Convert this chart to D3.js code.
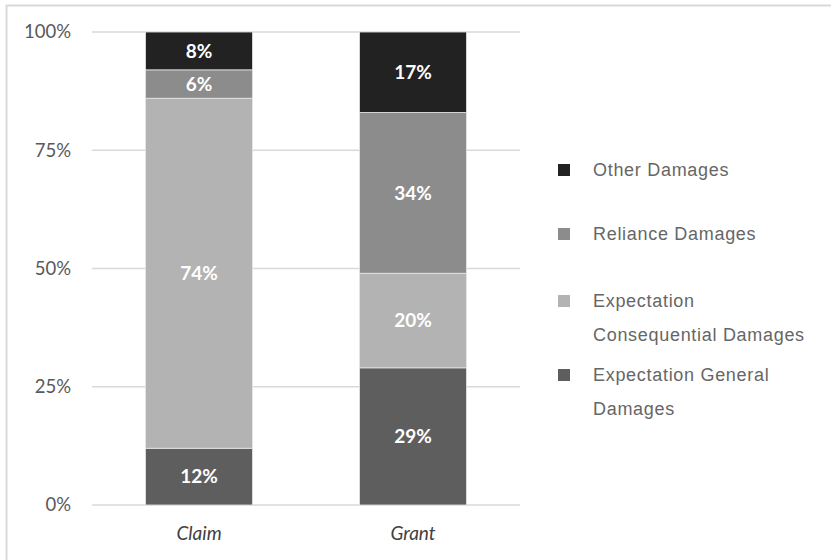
<!DOCTYPE html>
<html>
<head>
<meta charset="utf-8">
<script src="https://cdn.jsdelivr.net/npm/d3@7"></script>
<style>
  html, body { margin: 0; padding: 0; background: #fff; }
  svg { display: block; }
</style>
</head>
<body>
<svg id="chart" width="831" height="560"></svg>
<script>
// Share of damages, by stage
const categories = ["Claim", "Grant"];
const seriesNames = ["Expectation General Damages", "Expectation Consequential Damages", "Reliance Damages", "Other Damages"];
const generalDamages = [12, 29];
const consequentialDamages = [74, 20];
const relianceDamages = [6, 34];
const otherDamages = [8, 17];
const tickValues = [0, 25, 50, 75, 100];
const tickLabels = ["0%", "25%", "50%", "75%", "100%"];

const colors = ["#5e5e5e", "#b3b3b3", "#8c8c8c", "#222222"];
const legendLines = [
  ["Other Damages"],
  ["Reliance Damages"],
  ["Expectation", "Consequential Damages"],
  ["Expectation General", "Damages"]
];

const rows = categories.map((c, i) => ({
  category: c,
  [seriesNames[0]]: generalDamages[i],
  [seriesNames[1]]: consequentialDamages[i],
  [seriesNames[2]]: relianceDamages[i],
  [seriesNames[3]]: otherDamages[i]
}));
const stacked = d3.stack().keys(seriesNames)(rows);

const svg = d3.select("#chart");

// outer frame
svg.append("path")
  .attr("d", "M6.5,560 V5.5 H831")
  .attr("fill", "none")
  .attr("stroke", "#d9d9d9")
  .attr("stroke-width", 2);

const x = d3.scaleBand().domain(categories).range([92, 520]).paddingInner(0.5).paddingOuter(0.25);
const y = d3.scaleLinear().domain([0, 100]).range([505, 32]);

// gridlines
svg.append("g").selectAll("line").data(tickValues).join("line")
  .attr("x1", 92).attr("x2", 520)
  .attr("y1", d => y(d)).attr("y2", d => y(d))
  .attr("stroke", "#d9d9d9").attr("stroke-width", 1.5);

// y axis labels
const yAxis = d3.axisLeft(y).tickValues(tickValues).tickSize(0).tickPadding(0)
  .tickFormat((d, i) => tickLabels[i]);
const yg = svg.append("g").attr("transform", "translate(71,0)").call(yAxis);
yg.select(".domain").remove();
yg.selectAll("text")
  .attr("font-family", "Lato, sans-serif")
  .attr("font-size", 18.5)
  .attr("fill", "#595959");

// x axis labels
const xAxis = d3.axisBottom(x).tickSize(0).tickPadding(0);
const xg = svg.append("g").attr("transform", "translate(0,526)").call(xAxis);
xg.select(".domain").remove();
xg.selectAll("text")
  .attr("font-family", "Lato, sans-serif")
  .attr("font-style", "italic")
  .attr("font-size", 19)
  .attr("fill", "#404040");

// stacked bars
const layers = svg.append("g").selectAll("g").data(stacked).join("g")
  .attr("fill", (d, i) => colors[i]);

layers.selectAll("rect").data(d => d.map(v => ({v, key: d.key}))).join("rect")
  .attr("x", d => x(d.v.data.category))
  .attr("width", x.bandwidth())
  .attr("y", d => y(d.v[1]))
  .attr("height", d => y(d.v[0]) - y(d.v[1]))
  .attr("stroke", "#e6e6e6")
  .attr("stroke-width", 0.8);

layers.selectAll("text").data(d => d.map(v => ({v, key: d.key}))).join("text")
  .attr("x", d => x(d.v.data.category) + x.bandwidth() / 2)
  .attr("y", d => (y(d.v[0]) + y(d.v[1])) / 2)
  .attr("dy", "0.36em")
  .attr("text-anchor", "middle")
  .attr("font-family", "Lato, sans-serif")
  .attr("font-weight", "bold")
  .attr("font-size", 19)
  .attr("fill", "#ffffff")
  .text(d => (d.v[1] - d.v[0]) + "%");

// legend
const legendY = [170, 234, 301, 375];
const legendColors = [colors[3], colors[2], colors[1], colors[0]];
const lg = svg.append("g");
legendLines.forEach((lines, i) => {
  lg.append("rect")
    .attr("x", 558).attr("y", legendY[i] - 6)
    .attr("width", 12).attr("height", 12)
    .attr("fill", legendColors[i]);
  lines.forEach((t, j) => {
    lg.append("text")
      .attr("x", 593)
      .attr("y", legendY[i] + j * 34)
      .attr("dy", "0.36em")
      .attr("font-family", "'Liberation Sans', Arial, sans-serif")
      .attr("font-size", 18)
      .attr("letter-spacing", 0.7)
      .attr("fill", "#666666")
      .text(t);
  });
});
</script>
</body>
</html>
